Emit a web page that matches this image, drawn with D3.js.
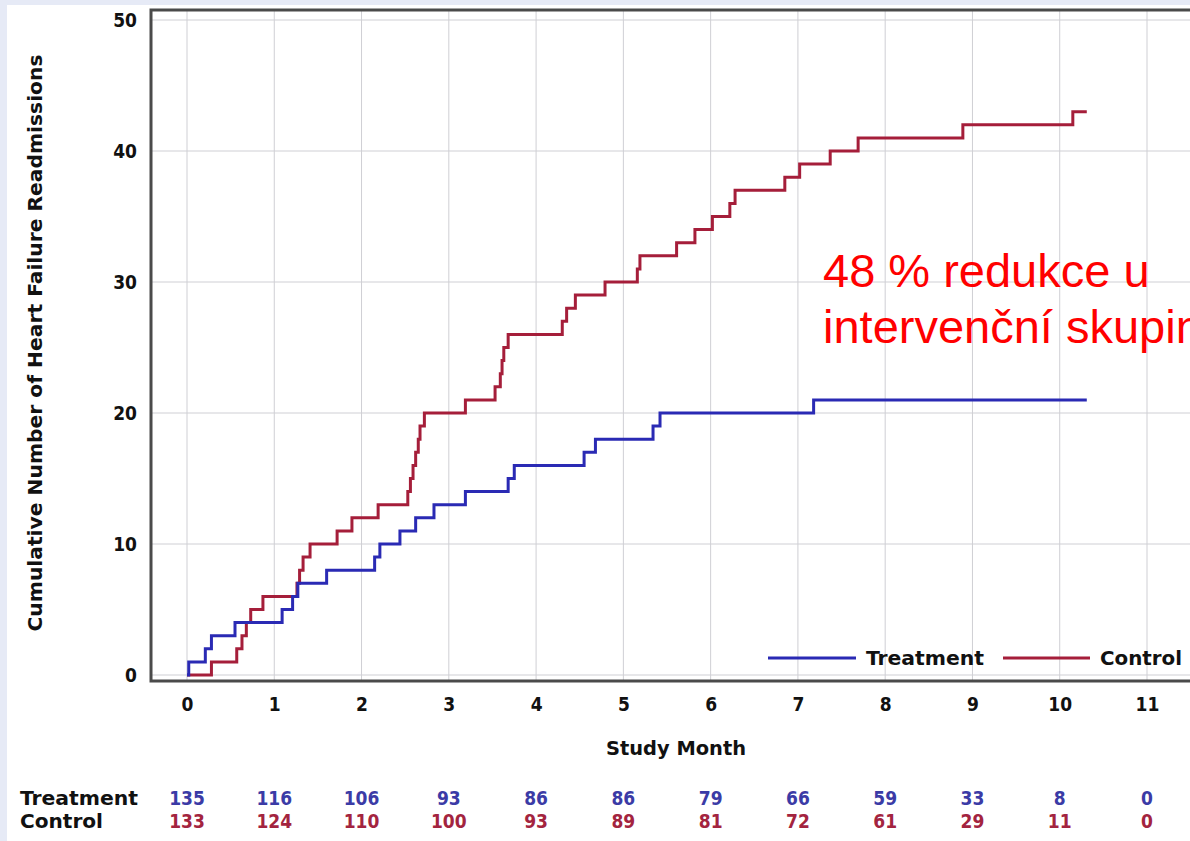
<!DOCTYPE html>
<html>
<head>
<meta charset="utf-8">
<script src="https://cdn.jsdelivr.net/npm/d3@7"></script>
<style>
  html, body { margin: 0; padding: 0; background: #e6eaf6; }
  svg { display: block; }
</style>
</head>
<body>
<svg id="chart" width="1190" height="841"></svg>
<script>
// ---- data ----
const monthTicks = [0,1,2,3,4,5,6,7,8,9,10,11];
const countTicks = [0,10,20,30,40,50];

// event times (months) and cumulative counts after each event
const treatmentTimes  = [0, 0.02,0.21,0.28,0.55,1.09,1.21,1.27,1.60,2.15,2.21,2.44,2.62,2.83,3.19,3.68,3.75,4.55,4.68,5.34,5.42,7.18,10.31];
const treatmentCounts = [0, 1,2,3,4,5,6,7,8,9,10,11,12,13,14,15,16,17,18,19,20,21,21];

const controlTimes  = [0, 0.28,0.57,0.63,0.68,0.73,0.87,1.26,1.29,1.33,1.41,1.72,1.89,2.19,2.53,2.56,2.59,2.62,2.65,2.67,2.72,3.19,3.53,3.59,3.61,3.63,3.68,4.30,4.35,4.45,4.79,5.16,5.19,5.61,5.82,6.02,6.22,6.28,6.85,7.02,7.37,7.69,8.89,10.15,10.31];
const controlCounts = [0, 1,2,3,4,5,6,7,8,9,10,11,12,13,14,15,16,17,18,19,20,21,22,23,24,25,26,27,28,29,30,31,32,33,34,35,36,37,38,39,40,41,42,43,43];

const riskMonths    = [0,1,2,3,4,5,6,7,8,9,10,11];
const riskTreatment = [135,116,106,93,86,86,79,66,59,33,8,0];
const riskControl   = [133,124,110,100,93,89,81,72,61,29,11,0];

const seriesNames = ["Treatment", "Control"];
const yTitle = "Cumulative Number of Heart Failure Readmissions";
const xTitle = "Study Month";
const noteLines = ["48 % redukce u", "intervenční skupiny"];

// ---- styles ----
const BLUE = "#2a2ab4", RED = "#a51e3a";
const BLUE_TXT = "#3b3ba6", RED_TXT = "#a3243f";
const NARROW = "'DejaVu Sans Condensed','Liberation Sans Narrow','Liberation Sans',Arial,sans-serif";
const FS = 19;

const svg = d3.select("#chart");
svg.append("rect").attr("x", 7).attr("y", 5).attr("width", 1190).attr("height", 841).attr("fill", "#ffffff");

const x = d3.scaleLinear().domain([0, 11]).range([187, 1147]);
const y = d3.scaleLinear().domain([0, 50]).range([675, 20]);

const frameL = 151, frameT = 10, frameB = 681, frameR = 1200;

// grid
const grid = svg.append("g");
grid.selectAll("line.v").data(monthTicks).join("line")
  .attr("x1", d => x(d)).attr("x2", d => x(d))
  .attr("y1", frameT).attr("y2", frameB)
  .attr("stroke", "#cfcfd4").attr("stroke-width", 1);
grid.selectAll("line.h").data(countTicks).join("line")
  .attr("x1", frameL).attr("x2", frameR)
  .attr("y1", d => y(d)).attr("y2", d => y(d))
  .attr("stroke", "#cfcfd4").attr("stroke-width", 1);

// frame
svg.append("path")
  .attr("d", `M${frameR},${frameT}H${frameL}V${frameB}H${frameR}`)
  .attr("fill", "none").attr("stroke", "#4a4a4a").attr("stroke-width", 3);

// axes (labels only)
const yAxis = d3.axisLeft(y).tickValues(countTicks).tickSize(0).tickPadding(14);
const gy = svg.append("g").attr("transform", `translate(${frameL},0)`).call(yAxis);
gy.select(".domain").remove();
gy.selectAll("text").attr("font-family", NARROW).attr("font-weight", "bold")
  .attr("font-size", FS).attr("fill", "#111").attr("dy", "0.35em");

const xAxis = d3.axisBottom(x).tickValues(monthTicks).tickSize(0).tickPadding(17);
const gx = svg.append("g").attr("transform", `translate(0,${frameB})`).call(xAxis);
gx.select(".domain").remove();
gx.selectAll("text").attr("font-family", NARROW).attr("font-weight", "bold")
  .attr("font-size", FS).attr("fill", "#111");

// axis titles
svg.append("text")
  .attr("transform", `translate(42,343) rotate(-90)`)
  .attr("text-anchor", "middle")
  .attr("font-family", NARROW).attr("font-weight", "bold").attr("font-size", FS)
  .attr("fill", "#111")
  .attr("textLength", 577).attr("lengthAdjust", "spacingAndGlyphs")
  .text(yTitle);
svg.append("text")
  .attr("x", 676).attr("y", 755)
  .attr("text-anchor", "middle")
  .attr("font-family", NARROW).attr("font-weight", "bold").attr("font-size", FS)
  .attr("fill", "#111")
  .attr("textLength", 140).attr("lengthAdjust", "spacingAndGlyphs")
  .text(xTitle);

// step curves
const line = d3.line().x(d => x(d[0])).y(d => y(d[1])).curve(d3.curveStepAfter);
const tData = treatmentTimes.map((t, i) => [t, treatmentCounts[i]]);
const cData = controlTimes.map((t, i) => [t, controlCounts[i]]);
svg.append("path").datum(cData).attr("d", line)
  .attr("fill", "none").attr("stroke", RED).attr("stroke-width", 3);
svg.append("path").datum(tData).attr("d", line)
  .attr("fill", "none").attr("stroke", BLUE).attr("stroke-width", 3);

// legend
const lg = svg.append("g");
lg.append("line").attr("x1", 768).attr("x2", 856).attr("y1", 658).attr("y2", 658)
  .attr("stroke", BLUE).attr("stroke-width", 3);
lg.append("text").attr("x", 866).attr("y", 658).attr("dy", "0.35em")
  .attr("font-family", NARROW).attr("font-weight", "bold").attr("font-size", FS).attr("fill", "#111")
  .attr("textLength", 118).attr("lengthAdjust", "spacingAndGlyphs")
  .text(seriesNames[0]);
lg.append("line").attr("x1", 1003).attr("x2", 1090).attr("y1", 658).attr("y2", 658)
  .attr("stroke", RED).attr("stroke-width", 3);
lg.append("text").attr("x", 1100).attr("y", 658).attr("dy", "0.35em")
  .attr("font-family", NARROW).attr("font-weight", "bold").attr("font-size", FS).attr("fill", "#111")
  .attr("textLength", 82).attr("lengthAdjust", "spacingAndGlyphs")
  .text(seriesNames[1]);

// annotation (clipped at the right edge, as in the reference)
const note = svg.append("text")
  .attr("font-family", "'Liberation Sans',Arial,sans-serif").attr("font-size", 47)
  .attr("fill", "#ff0000");
noteLines.forEach((s, i) => {
  note.append("tspan").attr("x", 823).attr("y", 287 + i * 56).text(s);
});

// risk table
const rt = svg.append("g");
rt.append("text").attr("x", 20).attr("y", 798).attr("dy", "0.35em")
  .attr("font-family", NARROW).attr("font-weight", "bold").attr("font-size", FS).attr("fill", "#111")
  .attr("textLength", 118).attr("lengthAdjust", "spacingAndGlyphs")
  .text(seriesNames[0]);
rt.append("text").attr("x", 20).attr("y", 821).attr("dy", "0.35em")
  .attr("font-family", NARROW).attr("font-weight", "bold").attr("font-size", FS).attr("fill", "#111")
  .attr("textLength", 83).attr("lengthAdjust", "spacingAndGlyphs")
  .text(seriesNames[1]);
rt.selectAll("text.t").data(riskTreatment).join("text").attr("class", "t")
  .attr("x", (d, i) => x(riskMonths[i])).attr("y", 798).attr("dy", "0.35em")
  .attr("text-anchor", "middle")
  .attr("font-family", NARROW).attr("font-weight", "bold").attr("font-size", FS).attr("fill", BLUE_TXT)
  .text(d => d);
rt.selectAll("text.c").data(riskControl).join("text").attr("class", "c")
  .attr("x", (d, i) => x(riskMonths[i])).attr("y", 821).attr("dy", "0.35em")
  .attr("text-anchor", "middle")
  .attr("font-family", NARROW).attr("font-weight", "bold").attr("font-size", FS).attr("fill", RED_TXT)
  .text(d => d);
</script>
</body>
</html>
